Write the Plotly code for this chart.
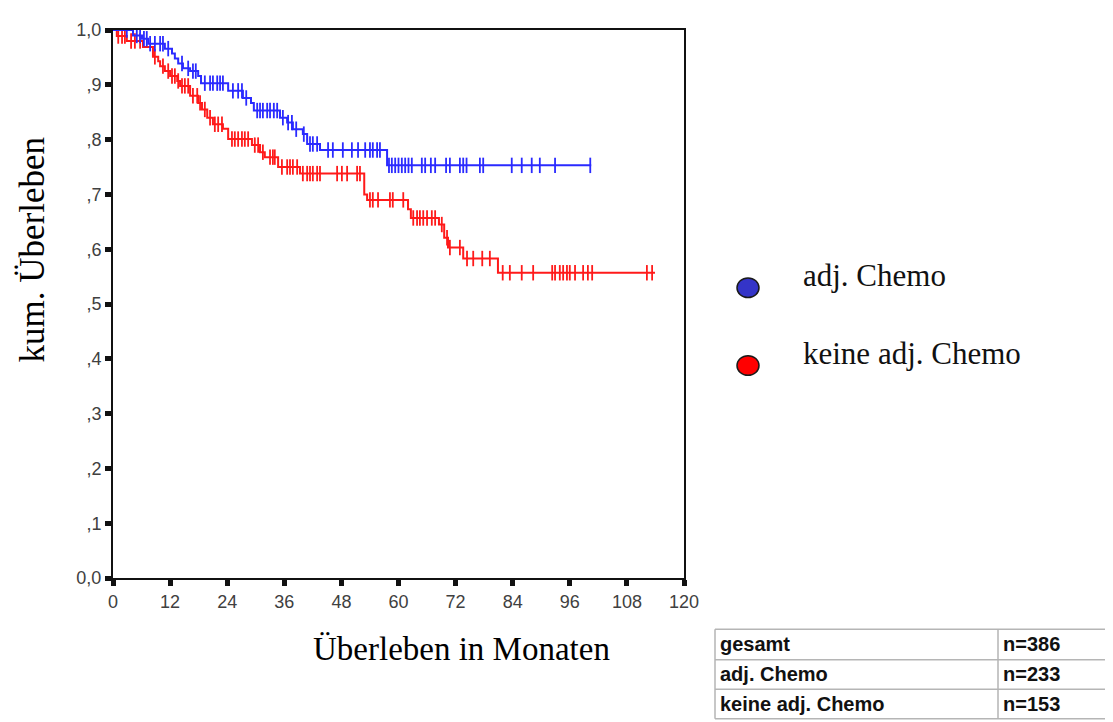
import numpy as np
import plotly.graph_objects as go

# ---------------- data ----------------
# adj. Chemo (blue): step times (months) and survival after each step
blue_step_t = [4.2, 6.1, 7.4, 10.9, 12.4, 13.0, 13.7, 14.7, 16.2, 17.9, 18.5, 24.2, 27.3,
               29.0, 29.6, 35.1, 36.6, 37.8, 39.9, 40.8, 43.5, 57.6]
blue_step_s = [0.990, 0.984, 0.975, 0.966, 0.957, 0.948, 0.939, 0.930, 0.925, 0.916, 0.903,
               0.889, 0.876, 0.867, 0.853, 0.840, 0.831, 0.819, 0.810, 0.792, 0.781, 0.753]
blue_end = 100.5
blue_censor_t = [2.9, 5.0, 5.7, 6.5, 7.1, 7.8, 8.8, 9.9, 10.5, 11.6, 14.5, 15.8, 16.8, 17.4,
                 19.3, 20.4, 21.0, 21.9, 22.5, 23.1, 25.2, 26.3, 27.1, 28.0, 30.3, 30.9, 31.5,
                 32.4, 33.0, 33.8, 34.5, 35.7, 36.8, 37.6, 38.5, 40.1, 41.4, 42.0, 42.9, 45.2,
                 46.2, 48.3, 50.2, 51.5, 53.0, 54.0, 54.6, 55.5, 56.1, 58.0, 58.6, 59.3, 60.0,
                 60.7, 61.4, 62.1, 62.8, 64.9, 65.6, 66.8, 67.7, 70.0, 70.8, 72.9, 73.6, 74.3,
                 77.1, 77.8, 83.8, 85.9, 88.0, 89.7, 92.9, 100.3]

# keine adj. Chemo (red)
red_step_t = [0.8, 2.9, 6.3, 8.4, 9.5, 9.9, 10.9, 12.0, 13.5, 14.1, 16.2, 17.9, 18.7, 19.8,
              21.0, 23.1, 24.2, 29.2, 30.9, 31.9, 34.7, 39.3, 52.8, 53.4, 62.0, 62.6, 68.5,
              69.6, 70.4, 73.6, 80.9]
red_step_s = [0.989, 0.980, 0.969, 0.951, 0.943, 0.934, 0.925, 0.916, 0.907, 0.898, 0.880,
              0.867, 0.855, 0.840, 0.828, 0.820, 0.801, 0.790, 0.777, 0.768, 0.750, 0.738,
              0.700, 0.690, 0.673, 0.657, 0.645, 0.621, 0.603, 0.583, 0.557]
red_end = 113.9
red_censor_t = [1.1, 1.9, 2.5, 3.8, 4.6, 5.7, 8.8, 10.5, 11.6, 12.4, 13.0, 13.7, 14.5, 15.1,
                15.8, 16.8, 17.7, 18.3, 19.3, 20.4, 21.4, 22.1, 22.9, 25.0, 25.6, 26.3, 27.1,
                27.7, 28.4, 29.8, 30.5, 31.5, 33.0, 33.6, 34.0, 35.5, 36.6, 37.2, 37.8, 38.7,
                39.9, 40.8, 41.4, 42.0, 42.9, 43.5, 47.1, 48.1, 49.2, 51.3, 51.9, 54.0, 54.6,
                55.7, 58.2, 58.8, 61.0, 63.1, 63.9, 64.5, 65.2, 66.0, 67.0, 67.7, 69.1, 70.2,
                70.8, 72.9, 74.4, 75.7, 77.6, 79.2, 81.9, 83.4, 85.9, 88.3, 92.3, 92.9, 93.9,
                94.6, 95.4, 96.0, 97.1, 98.8, 99.8, 100.7, 112.2, 113.3]

x_ticks = [0, 12, 24, 36, 48, 60, 72, 84, 96, 108, 120]
y_ticks = [0.0, 0.1, 0.2, 0.3, 0.4, 0.5, 0.6, 0.7, 0.8, 0.9, 1.0]
y_ticktext = ["0,0", ",1", ",2", ",3", ",4", ",5", ",6", ",7", ",8", ",9", "1,0"]

legend_names = ["adj. Chemo", "keine adj. Chemo"]
legend_colors = ["#3434c8", "#ff0000"]

table_rows = [["gesamt", "n=386"], ["adj. Chemo", "n=233"], ["keine adj. Chemo", "n=153"]]

BLUE = "#2a2aff"
RED = "#ff1a1a"

# ---------------- figure ----------------
OFF = 8  # page body margin
W, H = 1113 - OFF, 722 - OFF
L, R, T, B = 113, 684, 21, 578  # plot area in target-image pixels


def px(x):
    return (x - L) / (R - L)


def py(y):
    return (B - y) / (B - T)


def curve(step_t, step_s, end):
    xs = [0] + list(step_t) + [end]
    ys = [1.0] + list(step_s) + [step_s[-1]]
    return xs, ys


def censor_y(step_t, step_s, ct):
    st = np.array(step_t)
    ss = np.array([1.0] + list(step_s))
    idx = np.searchsorted(st, np.array(ct), side="right")
    return ss[idx]


fig = go.Figure()
for st, ss, end, ct, col in [(red_step_t, red_step_s, red_end, red_censor_t, RED),
                             (blue_step_t, blue_step_s, blue_end, blue_censor_t, BLUE)]:
    xs, ys = curve(st, ss, end)
    fig.add_trace(go.Scatter(x=xs, y=ys, mode="lines", line=dict(color=col, width=2, shape="hv"),
                             showlegend=False, hoverinfo="skip"))
    fig.add_trace(go.Scatter(x=ct, y=censor_y(st, ss, ct), mode="markers",
                             marker=dict(symbol="line-ns", size=11, line=dict(color=col, width=1.8)),
                             showlegend=False, hoverinfo="skip"))

axis_common = dict(showgrid=False, zeroline=False, showline=True, linecolor="#111",
                   linewidth=2, mirror=True, ticks="outside", ticklen=6, tickwidth=5,
                   tickcolor="#111", tickfont=dict(family="Liberation Sans, Arial", size=18,
                                                   color="#404040"))
fig.update_xaxes(range=[0, 120], tickvals=x_ticks, ticktext=[str(v) for v in x_ticks],
                 **axis_common)
fig.update_yaxes(range=[0, 1], tickvals=y_ticks, ticktext=y_ticktext, **axis_common)

shapes = []
annotations = []
serif = "Liberation Serif, Times New Roman, serif"
annotations.append(dict(text="kum. Überleben", xref="paper", yref="paper", x=px(32), y=py(245),
                        textangle=-90, showarrow=False, font=dict(family=serif, size=35, color="#000"),
                        xanchor="center", yanchor="middle"))
annotations.append(dict(text="Überleben in Monaten", xref="paper", yref="paper", x=px(461), y=py(650),
                        showarrow=False, font=dict(family=serif, size=33, color="#000"),
                        xanchor="center", yanchor="middle"))

leg_y = [283, 362]
for name, col, yy in zip(legend_names, legend_colors, leg_y):
    shapes.append(dict(type="circle", xref="paper", yref="paper", x0=px(737), x1=px(759),
                       y0=py(yy + 10), y1=py(yy - 10), fillcolor=col, line=dict(color="#1a1a1a", width=1.5)))
    annotations.append(dict(text=name, xref="paper", yref="paper", x=px(801), y=py(yy - 12),
                            showarrow=False, xanchor="left", yanchor="middle",
                            font=dict(family=serif, size=31, color="#111")))

# table
tx0, txm, tx1 = 715, 998, 1108
ty = [630, 661, 691, 721]
for yv in ty:
    shapes.append(dict(type="line", xref="paper", yref="paper", x0=px(tx0), x1=px(tx1),
                       y0=py(yv), y1=py(yv), line=dict(color="#b5b5b5", width=1.5)))
for xv in [tx0, txm, tx1]:
    shapes.append(dict(type="line", xref="paper", yref="paper", x0=px(xv), x1=px(xv),
                       y0=py(ty[0]), y1=py(ty[-1]), line=dict(color="#b5b5b5", width=1.5)))
for i, (a, b) in enumerate(table_rows):
    yc = (ty[i] + ty[i + 1]) / 2
    annotations.append(dict(text="<b>%s</b>" % a, xref="paper", yref="paper", x=px(718), y=py(yc),
                            showarrow=False, xanchor="left", yanchor="middle",
                            font=dict(family="Liberation Sans, Arial", size=20, color="#111")))
    annotations.append(dict(text="<b>%s</b>" % b, xref="paper", yref="paper", x=px(1001), y=py(yc),
                            showarrow=False, xanchor="left", yanchor="middle",
                            font=dict(family="Liberation Sans, Arial", size=20, color="#111")))

fig.update_layout(width=W, height=H,
                  margin=dict(l=L - OFF, r=W - (R - OFF), t=T - OFF, b=H - (B - OFF), pad=0),
                  paper_bgcolor="white", plot_bgcolor="white", showlegend=False,
                  shapes=shapes, annotations=annotations)

fig.write_html("out.html")
